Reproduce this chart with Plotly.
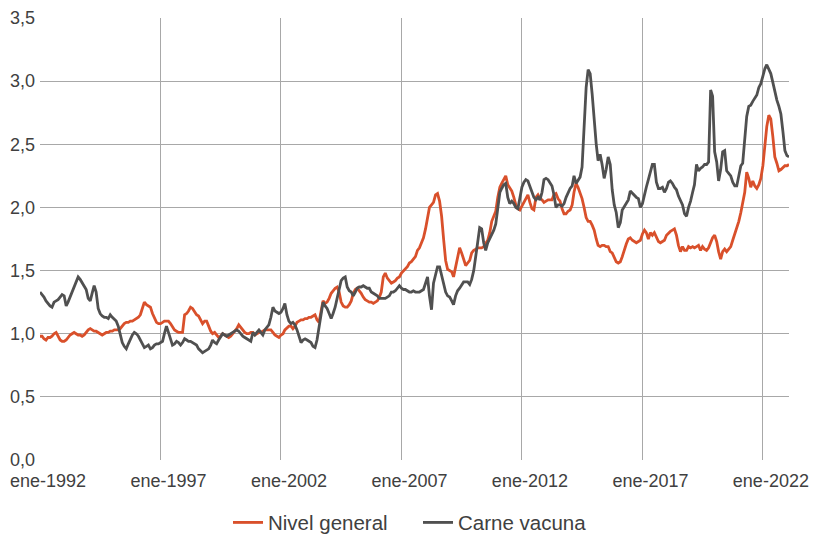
import pandas as pd
import plotly.graph_objects as go

# meses: ene-1992 a feb-2023
fechas = pd.date_range("1992-01-01", "2023-02-01", freq="MS")

# Nivel general (un renglon por año)
nivel_general = [
    0.98, 0.98, 0.96, 0.95, 0.97, 0.97, 0.98, 1.00, 1.01, 0.98, 0.95, 0.94,  # 1992
    0.94, 0.95, 0.97, 0.99, 1.00, 1.01, 1.00, 0.99, 0.99, 0.98, 0.99, 1.01,  # 1993
    1.03, 1.04, 1.03, 1.02, 1.02, 1.01, 1.00, 0.99, 1.00, 1.01, 1.01, 1.02,  # 1994
    1.02, 1.03, 1.03, 1.03, 1.04, 1.06, 1.08, 1.09, 1.09, 1.10, 1.10, 1.11,  # 1995
    1.12, 1.13, 1.15, 1.21, 1.25, 1.23, 1.22, 1.21, 1.16, 1.12, 1.09, 1.08,  # 1996
    1.08, 1.09, 1.10, 1.10, 1.10, 1.08, 1.05, 1.03, 1.02, 1.01, 1.01, 1.01,  # 1997
    1.15, 1.16, 1.18, 1.21, 1.20, 1.17, 1.15, 1.14, 1.11, 1.08, 1.10, 1.10,  # 1998
    1.06, 1.02, 1.00, 1.01, 0.99, 0.97, 0.98, 1.00, 0.99, 0.98, 0.97, 0.98,  # 1999
    1.00, 1.02, 1.04, 1.07, 1.05, 1.03, 1.01, 1.00, 1.00, 1.01, 1.01, 0.99,  # 2000
    1.00, 1.01, 1.01, 1.02, 1.03, 1.03, 1.03, 1.03, 1.01, 0.99, 0.98, 0.97,  # 2001
    0.99, 1.00, 1.03, 1.05, 1.06, 1.06, 1.04, 1.06, 1.09, 1.10, 1.11, 1.11,  # 2002
    1.12, 1.12, 1.13, 1.13, 1.14, 1.15, 1.11, 1.09, 1.18, 1.26, 1.24, 1.25,  # 2003
    1.28, 1.32, 1.34, 1.36, 1.37, 1.33, 1.25, 1.22, 1.21, 1.21, 1.23, 1.26,  # 2004
    1.32, 1.35, 1.36, 1.34, 1.32, 1.29, 1.27, 1.26, 1.25, 1.25, 1.24, 1.25,  # 2005
    1.26, 1.29, 1.33, 1.45, 1.48, 1.44, 1.42, 1.40, 1.41, 1.42, 1.44, 1.45,  # 2006
    1.48, 1.50, 1.51, 1.53, 1.56, 1.57, 1.59, 1.61, 1.66, 1.68, 1.72, 1.76,  # 2007
    1.83, 1.92, 2.00, 2.02, 2.04, 2.10, 2.11, 2.05, 1.93, 1.75, 1.58, 1.51,  # 2008
    1.50, 1.49, 1.45, 1.52, 1.60, 1.68, 1.64, 1.58, 1.54, 1.56, 1.58, 1.64,  # 2009
    1.66, 1.67, 1.68, 1.68, 1.68, 1.69, 1.72, 1.74, 1.80, 1.89, 1.93, 1.97,  # 2010
    2.08, 2.16, 2.19, 2.22, 2.25, 2.18, 2.15, 2.13, 2.08, 2.02, 1.99, 1.98,  # 2011
    2.01, 2.04, 2.08, 2.10, 2.04, 1.99, 1.98, 2.08, 2.10, 2.07, 2.06, 2.04,  # 2012
    2.05, 2.06, 2.06, 2.06, 2.10, 2.11, 2.07, 2.05, 1.99, 1.95, 1.95, 1.97,  # 2013
    1.98, 2.02, 2.12, 2.19, 2.16, 2.12, 2.07, 2.00, 1.92, 1.89, 1.89, 1.86,  # 2014
    1.82, 1.75, 1.70, 1.69, 1.70, 1.70, 1.69, 1.69, 1.65, 1.64, 1.61, 1.57,  # 2015
    1.56, 1.57, 1.61, 1.67, 1.71, 1.75, 1.76, 1.74, 1.73, 1.72, 1.73, 1.74,  # 2016
    1.79, 1.82, 1.80, 1.75, 1.80, 1.78, 1.80, 1.77, 1.73, 1.72, 1.73, 1.74,  # 2017
    1.78, 1.80, 1.81, 1.82, 1.83, 1.78, 1.70, 1.65, 1.69, 1.66, 1.66, 1.69,  # 2018
    1.68, 1.69, 1.68, 1.69, 1.70, 1.66, 1.69, 1.67, 1.66, 1.68, 1.72, 1.76,  # 2019
    1.78, 1.73, 1.65, 1.59, 1.65, 1.67, 1.65, 1.67, 1.69, 1.74, 1.79, 1.83,  # 2020
    1.89, 1.96, 2.03, 2.12, 2.28, 2.23, 2.16, 2.21, 2.17, 2.15, 2.18, 2.23,  # 2021
    2.33, 2.48, 2.64, 2.73, 2.70, 2.56, 2.40, 2.35, 2.29, 2.30, 2.32, 2.33,  # 2022
    2.33, 2.34,  # 2023
]

# Carne vacuna
carne_vacuna = [
    1.33, 1.31, 1.29, 1.26, 1.24, 1.22, 1.21, 1.25, 1.26, 1.27, 1.29, 1.31,  # 1992
    1.30, 1.22, 1.25, 1.29, 1.34, 1.38, 1.42, 1.45, 1.43, 1.40, 1.37, 1.35,  # 1993
    1.28, 1.26, 1.32, 1.38, 1.33, 1.20, 1.16, 1.14, 1.13, 1.13, 1.12, 1.15,  # 1994
    1.13, 1.11, 1.10, 1.06, 1.00, 0.93, 0.90, 0.88, 0.92, 0.96, 0.99, 1.01,  # 1995
    1.00, 0.98, 0.95, 0.92, 0.89, 0.90, 0.91, 0.88, 0.89, 0.91, 0.92, 0.92,  # 1996
    0.93, 0.94, 1.00, 1.06, 1.01, 0.96, 0.91, 0.92, 0.94, 0.93, 0.91, 0.93,  # 1997
    0.96, 0.95, 0.94, 0.94, 0.93, 0.92, 0.91, 0.88, 0.86, 0.85, 0.86, 0.87,  # 1998
    0.88, 0.91, 0.95, 0.93, 0.92, 0.95, 0.98, 1.00, 0.99, 0.98, 0.99, 1.00,  # 1999
    1.01, 1.02, 1.03, 1.02, 1.00, 0.98, 0.97, 0.96, 0.95, 0.94, 1.01, 0.99,  # 2000
    1.01, 1.03, 1.01, 0.99, 1.03, 1.05, 1.07, 1.13, 1.21, 1.18, 1.17, 1.16,  # 2001
    1.17, 1.20, 1.24, 1.15, 1.10, 1.08, 1.09, 1.07, 1.03, 0.97, 0.93, 0.95,  # 2002
    0.96, 0.95, 0.94, 0.93, 0.90, 0.89, 0.95, 1.05, 1.14, 1.25, 1.22, 1.20,  # 2003
    1.16, 1.12, 1.16, 1.21, 1.28, 1.36, 1.42, 1.44, 1.45, 1.37, 1.34, 1.33,  # 2004
    1.30, 1.33, 1.36, 1.37, 1.37, 1.38, 1.37, 1.36, 1.36, 1.33, 1.32, 1.31,  # 2005
    1.30, 1.28, 1.28, 1.28, 1.28, 1.29, 1.30, 1.33, 1.33, 1.34, 1.36, 1.38,  # 2006
    1.36, 1.35, 1.35, 1.34, 1.33, 1.33, 1.34, 1.33, 1.33, 1.33, 1.34, 1.35,  # 2007
    1.40, 1.45, 1.30, 1.19, 1.40, 1.48, 1.53, 1.53, 1.46, 1.40, 1.33, 1.30,  # 2008
    1.29, 1.26, 1.23, 1.30, 1.34, 1.36, 1.39, 1.41, 1.41, 1.41, 1.39, 1.43,  # 2009
    1.50, 1.60, 1.72, 1.84, 1.83, 1.72, 1.66, 1.72, 1.75, 1.78, 1.82, 1.87,  # 2010
    1.98, 2.12, 2.15, 2.18, 2.19, 2.08, 2.03, 2.05, 2.03, 2.00, 1.99, 2.07,  # 2011
    2.16, 2.20, 2.22, 2.21, 2.17, 2.12, 2.08, 2.06, 2.08, 2.06, 2.12, 2.22,  # 2012
    2.23, 2.22, 2.20, 2.17, 2.10, 2.00, 2.02, 2.02, 2.01, 2.03, 2.08, 2.12,  # 2013
    2.15, 2.17, 2.25, 2.19, 2.21, 2.24, 2.32, 2.64, 2.95, 3.09, 3.06, 2.90,  # 2014
    2.68, 2.50, 2.37, 2.42, 2.34, 2.23, 2.30, 2.40, 2.34, 2.14, 2.02, 1.96,  # 2015
    1.84, 1.88, 1.98, 2.01, 2.03, 2.06, 2.13, 2.11, 2.09, 2.08, 2.07, 2.00,  # 2016
    2.03, 2.11, 2.16, 2.22, 2.28, 2.34, 2.34, 2.20, 2.15, 2.15, 2.16, 2.12,  # 2017
    2.15, 2.20, 2.21, 2.19, 2.16, 2.14, 2.09, 2.05, 2.02, 1.95, 1.93, 2.00,  # 2018
    2.05, 2.12, 2.18, 2.34, 2.29, 2.31, 2.32, 2.34, 2.34, 2.36, 2.93, 2.88,  # 2019
    2.44, 2.36, 2.21, 2.30, 2.44, 2.45, 2.29, 2.27, 2.25, 2.20, 2.17, 2.17,  # 2020
    2.24, 2.33, 2.35, 2.52, 2.72, 2.80, 2.81, 2.84, 2.87, 2.89, 2.95, 2.98,  # 2021
    3.04, 3.10, 3.13, 3.10, 3.06, 2.99, 2.91, 2.85, 2.80, 2.74, 2.60, 2.45,  # 2022
    2.41, 2.40,  # 2023
]

anios_ticks = [1992, 1997, 2002, 2007, 2012, 2017, 2022]
etiquetas_x = ["ene-%d" % a for a in anios_ticks]
valores_y = [0, 0.5, 1.0, 1.5, 2.0, 2.5, 3.0, 3.5]

fig = go.Figure()
fig.add_trace(go.Scatter(x=fechas, y=nivel_general, name="Nivel general",
                         mode="lines", line=dict(color="#D9502B", width=2.8)))
fig.add_trace(go.Scatter(x=fechas, y=carne_vacuna, name="Carne vacuna",
                         mode="lines", line=dict(color="#505050", width=2.8)))

fig.update_layout(
    width=816, height=536,
    margin=dict(l=40, r=27, t=18, b=76, autoexpand=False),
    plot_bgcolor="white", paper_bgcolor="white",
    separators=",.",
    font=dict(family="Liberation Sans, Arial, sans-serif", size=18, color="#404040"),
    showlegend=True,
    legend=dict(orientation="h", x=228 / 816, xanchor="left", xref="container",
                y=0.025, yanchor="middle", yref="container",
                font=dict(size=20.5), itemwidth=30, entrywidth=145),
)
fig.update_xaxes(
    type="date",
    range=["1992-01-01", "2023-02-01"],
    tickvals=[pd.Timestamp(a, 1, 1) for a in anios_ticks],
    ticktext=etiquetas_x,
    showgrid=True, gridcolor="#A8A8A8", gridwidth=1.3,
    zeroline=False, showline=False, ticks="",
    ticklabelshift=8, ticklabelstandoff=8,
    automargin=False,
)
fig.update_yaxes(
    range=[0, 3.5],
    tickvals=valores_y, tickformat=".1f",
    showgrid=True, gridcolor="#A8A8A8", gridwidth=1.3,
    zeroline=False, showline=False, ticks="",
    ticklabelstandoff=4,
    automargin=False,
)

# quitar el margen del body para que la figura ocupe toda la ventana
fig.write_html("out.html", config={"displayModeBar": False},
               post_script="document.body.style.margin = '0';")
